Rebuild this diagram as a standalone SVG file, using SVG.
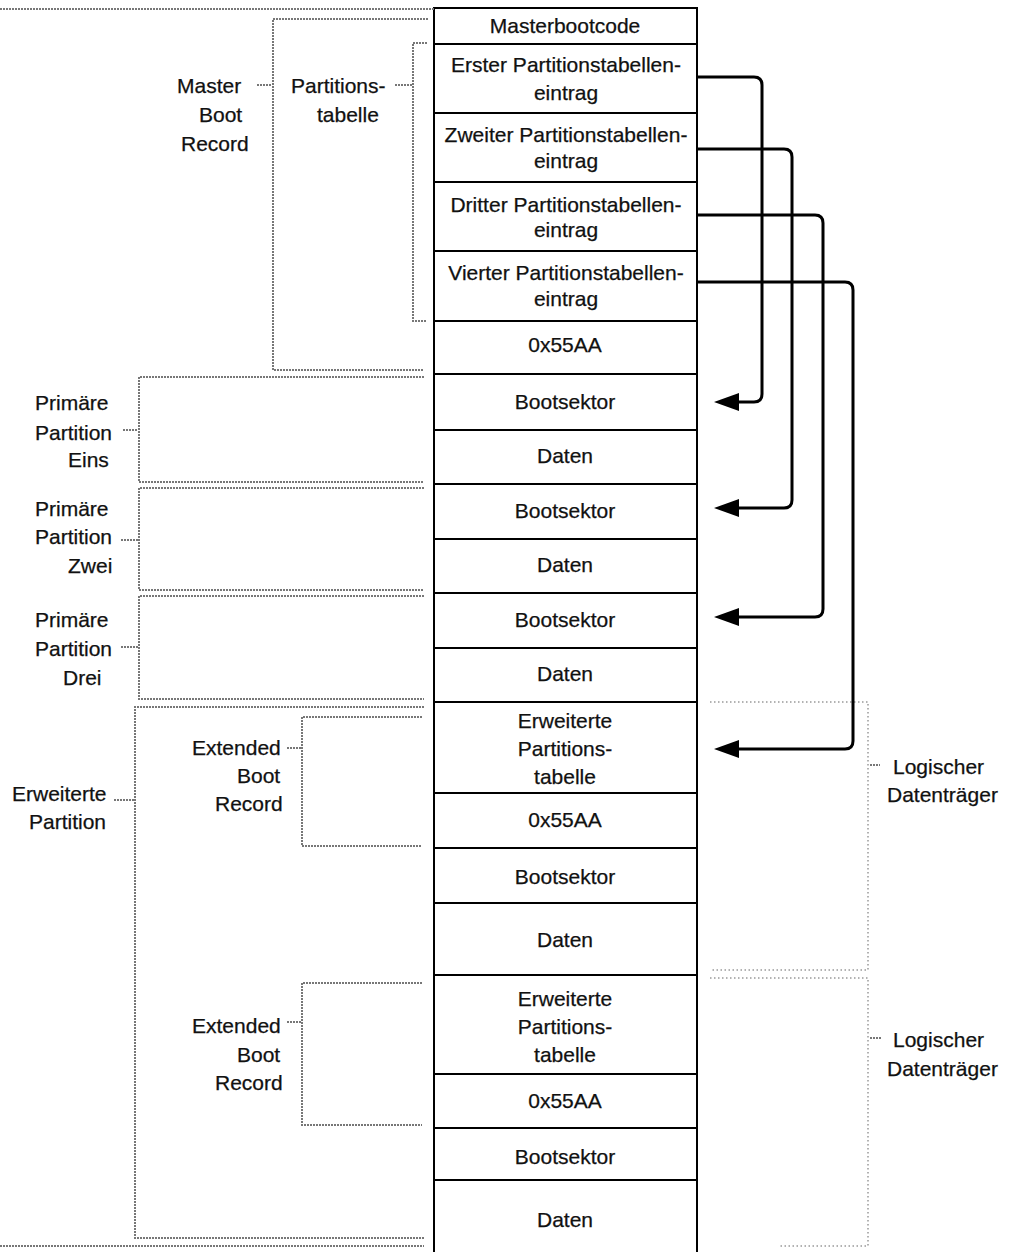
<svg xmlns="http://www.w3.org/2000/svg" width="1021" height="1252" viewBox="0 0 1021 1252">
<style>
text{font-family:"Liberation Sans",Arial,sans-serif;font-size:21px;fill:#111;stroke:#111;stroke-width:0.25}
.c{text-anchor:middle}
.s{text-anchor:start}
.cell{fill:none;stroke:#000;stroke-width:2}
.dot{fill:none;stroke:#777;stroke-width:2;stroke-dasharray:2 1}
.dotl{fill:none;stroke:#999;stroke-width:1.5;stroke-dasharray:1.5 2.5}
.arr{fill:none;stroke:#000;stroke-width:3;marker-end:url(#ah)}
</style>
<defs>
<marker id="ah" markerUnits="userSpaceOnUse" markerWidth="26" markerHeight="20" refX="2" refY="10" orient="auto" viewBox="0 0 26 20">
<path d="M0,1 L25,10 L0,19 Z" fill="#000"/>
</marker>
</defs>

<g id="column">
<rect class="cell" x="434" y="8" width="263" height="1250"/>
<path class="cell" d="M434,44H697M434,113H697M434,182H697M434,251H697M434,321H697M434,374H697M434,430H697M434,484H697M434,539H697M434,593H697M434,648H697M434,702H697M434,793H697M434,848H697M434,903H697M434,975H697M434,1074H697M434,1128H697M434,1180H697"/>
</g>

<g id="mbr-cells">
<text class="c" x="565" y="33">Masterbootcode</text>
<text class="c" x="566" y="72">Erster Partitionstabellen-</text>
<text class="c" x="566" y="100">eintrag</text>
<text class="c" x="566" y="142">Zweiter Partitionstabellen-</text>
<text class="c" x="566" y="168">eintrag</text>
<text class="c" x="566" y="212">Dritter  Partitionstabellen-</text>
<text class="c" x="566" y="237">eintrag</text>
<text class="c" x="566" y="280">Vierter Partitionstabellen-</text>
<text class="c" x="566" y="306">eintrag</text>
<text class="c" x="565" y="352">0x55AA</text>
</g>
<g id="partition-cells">
<text class="c" x="565" y="409">Bootsektor</text>
<text class="c" x="565" y="463">Daten</text>
<text class="c" x="565" y="518">Bootsektor</text>
<text class="c" x="565" y="572">Daten</text>
<text class="c" x="565" y="627">Bootsektor</text>
<text class="c" x="565" y="681">Daten</text>
</g>
<g id="extended-cells">
<text class="c" x="565" y="728">Erweiterte</text>
<text class="c" x="565" y="756">Partitions-</text>
<text class="c" x="565" y="784">tabelle</text>
<text class="c" x="565" y="827">0x55AA</text>
<text class="c" x="565" y="884">Bootsektor</text>
<text class="c" x="565" y="947">Daten</text>
<text class="c" x="565" y="1006">Erweiterte</text>
<text class="c" x="565" y="1034">Partitions-</text>
<text class="c" x="565" y="1062">tabelle</text>
<text class="c" x="565" y="1108">0x55AA</text>
<text class="c" x="565" y="1164">Bootsektor</text>
<text class="c" x="565" y="1227">Daten</text>
</g>

<g id="master-boot-record">
<path class="dot" d="M0,9H434"/>
<path class="dot" d="M428,19H273V370H424"/>
<path class="dot" d="M257,85H272"/>
<text class="s" x="177" y="93">Master</text>
<text class="s" x="199" y="122">Boot</text>
<text class="s" x="181" y="151">Record</text>
</g>
<g id="partitionstabelle">
<path class="dot" d="M427,43H413V321H427"/>
<path class="dot" d="M395,85H412"/>
<text class="s" x="291" y="93">Partitions-</text>
<text class="s" x="317" y="122">tabelle</text>
</g>
<g id="primaer-eins">
<path class="dot" d="M424,377H139V482H424"/>
<path class="dot" d="M123,430H138"/>
<text class="s" x="35" y="410">Primäre</text>
<text class="s" x="35" y="440">Partition</text>
<text class="s" x="68" y="467">Eins</text>
</g>
<g id="primaer-zwei">
<path class="dot" d="M424,488H139V590H424"/>
<path class="dot" d="M121,540H138"/>
<text class="s" x="35" y="516">Primäre</text>
<text class="s" x="35" y="544">Partition</text>
<text class="s" x="68" y="573">Zwei</text>
</g>
<g id="primaer-drei">
<path class="dot" d="M424,596H139V699H424"/>
<path class="dot" d="M121,647H138"/>
<text class="s" x="35" y="627">Primäre</text>
<text class="s" x="35" y="656">Partition</text>
<text class="s" x="63" y="685">Drei</text>
</g>
<g id="erweiterte-partition">
<path class="dot" d="M424,707H135V1238H424"/>
<path class="dot" d="M0,1246H424"/>
<path class="dot" d="M114,800H134"/>
<text class="s" x="12" y="801">Erweiterte</text>
<text class="s" x="29" y="829">Partition</text>
</g>
<g id="ebr-1">
<path class="dot" d="M422,717H302V846H422"/>
<path class="dot" d="M287,748H301"/>
<text class="s" x="192" y="755">Extended</text>
<text class="s" x="237" y="783">Boot</text>
<text class="s" x="215" y="811">Record</text>
</g>
<g id="ebr-2">
<path class="dot" d="M422,983H302V1125H422"/>
<path class="dot" d="M287,1022H301"/>
<text class="s" x="192" y="1033">Extended</text>
<text class="s" x="237" y="1062">Boot</text>
<text class="s" x="215" y="1090">Record</text>
</g>
<g id="logisch-1">
<path class="dotl" d="M710,702H868V970H710"/>
<path class="dot" d="M870,765H880"/>
<text class="s" x="893" y="774">Logischer</text>
<text class="s" x="887" y="802">Datenträger</text>
</g>
<g id="logisch-2">
<path class="dotl" d="M710,978H868V1246H780"/>
<path class="dot" d="M870,1038H882"/>
<text class="s" x="893" y="1047">Logischer</text>
<text class="s" x="887" y="1076">Datenträger</text>
</g>

<g id="connectors">
<path class="arr" d="M697,77H754Q762,77 762,85V394Q762,402 754,402H737"/>
<path class="arr" d="M697,149H784Q792,149 792,157V500Q792,508 784,508H737"/>
<path class="arr" d="M697,215H815Q823,215 823,223V609Q823,617 815,617H737"/>
<path class="arr" d="M697,282H845Q853,282 853,290V741Q853,749 845,749H737"/>
</g>
</svg>
